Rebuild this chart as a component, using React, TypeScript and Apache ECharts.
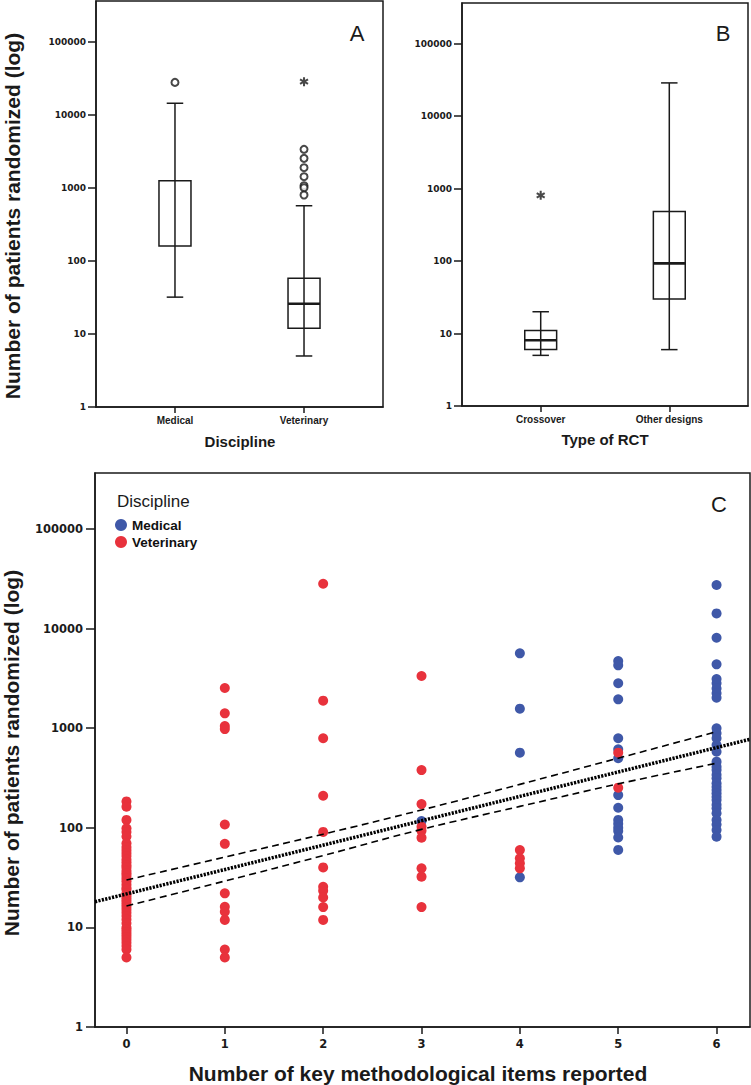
import React, { useEffect, useRef } from "react";
import * as echarts from "echarts";

// ---------- data ----------
const Y_TICKS = [1, 10, 100, 1000, 10000, 100000];
const Y_MAX = 365000;

const disciplineCats = ["Medical", "Veterinary"];
const rctCats = ["Crossover", "Other designs"];

// [lower whisker, Q1, median, Q3, upper whisker]
const medicalBox = [32, 160, null, 1260, 14500];
const veterinaryBox = [5, 12, 26, 58, 572];
const crossoverBox = [5, 6, 8.1, 11, 20];
const otherDesignsBox = [6, 30, 93, 485, 28800];

// outliers (circles) and extremes (asterisks)
const medicalOutliers = [28000];
const veterinaryOutliers = [3390, 2550, 1900, 1430, 1076, 1010, 802];
const veterinaryExtremes = [28600];
const crossoverExtremes = [810];

// scatter: patients randomized by number of key items reported (0..6)
const itemCounts = [0, 1, 2, 3, 4, 5, 6];
const medicalByItems: number[][] = [
  [],
  [],
  [],
  [117],
  [5650, 1570, 568, 31.8],
  [4720, 4280, 2825, 1950, 792, 614, 499, 213, 159, 120, 110, 100, 93, 80, 60],
  [27400, 14200, 8100, 4380, 3120, 2825, 2510, 2240, 2020, 998, 889, 792, 678, 581, 461, 410, 380, 340, 314, 280, 259, 240, 222, 205, 190, 170, 157, 140, 120, 108, 95, 81.5],
];
const veterinaryByItems: number[][] = [
  [184, 163, 120, 99, 91, 82, 70, 64, 60, 56, 52, 48, 45, 42, 40, 37, 35, 33, 31, 29, 27, 25, 24, 22, 21, 20, 19, 18, 17, 16, 15, 14, 13, 12, 11, 10, 9.5, 9, 8.5, 8, 7.5, 7, 6.5, 6, 5],
  [2535, 1410, 1050, 980, 108, 69, 22, 16.1, 14.4, 11.9, 6, 5],
  [28200, 1890, 792, 210, 91, 40, 25.6, 23.4, 20, 16, 11.9],
  [3340, 380, 173, 102.6, 93.5, 79.6, 39.2, 32.3, 16],
  [59.8, 49.4, 44, 39.2],
  [568, 253],
  [],
];

// fit line (ends at the plot edges) and its confidence band
const fitX = [-0.32, 6.34];
const fitY = [18.1, 774];
const bandUpper = [29.9, 50.8, 86.3, 151, 273, 500, 922];
const bandLower = [16.4, 29.2, 52.6, 96.4, 164, 276, 445];

// ---------- styles ----------
const INK = "#1a1a1a";
const BLUE = "#3f58a8";
const RED = "#e8323c";
const BOX_HALF = 0.124;
const CAP_HALF = 0.064;

function boxRender(params: any, api: any) {
  const x = api.value(0);
  const lo = api.value(1);
  const q1 = api.value(2);
  const med = api.value(3);
  const q3 = api.value(4);
  const hi = api.value(5);
  const pLo = api.coord([x, lo]);
  const pQ1 = api.coord([x, q1]);
  const pQ3 = api.coord([x, q3]);
  const pHi = api.coord([x, hi]);
  const cx = pQ1[0];
  const hw = api.coord([x + BOX_HALF, q1])[0] - cx;
  const cw = api.coord([x + CAP_HALF, q1])[0] - cx;
  const st = { stroke: INK, lineWidth: 1.5, fill: "none" };
  const children: any[] = [
    { type: "line", shape: { x1: cx, y1: pHi[1], x2: cx, y2: pLo[1] }, style: st },
    { type: "line", shape: { x1: cx - cw, y1: pHi[1], x2: cx + cw, y2: pHi[1] }, style: st },
    { type: "line", shape: { x1: cx - cw, y1: pLo[1], x2: cx + cw, y2: pLo[1] }, style: st },
    { type: "rect", shape: { x: cx - hw, y: pQ3[1], width: 2 * hw, height: pQ1[1] - pQ3[1] }, style: st },
  ];
  if (med != null && isFinite(med) && med > 0) {
    const pM = api.coord([x, med]);
    children.push({ type: "line", shape: { x1: cx - hw, y1: pM[1], x2: cx + hw, y2: pM[1] }, style: { stroke: INK, lineWidth: 2.6 } });
  }
  return { type: "group", children };
}

const ASTERISK =
  "path://M-2.2,-10L2.2,-10L2.2,10L-2.2,10Z M7.56,-6.91L9.76,-3.09L-7.56,6.91L-9.76,3.09Z M9.76,3.09L7.56,6.91L-9.76,-3.09L-7.56,-6.91Z";

function yAxisCfg(gi: number, fontSize: number, margin: number, tickLen: number) {
  return {
    type: "log",
    logBase: 10,
    gridIndex: gi,
    min: 1,
    max: Y_MAX,
    axisLine: { show: true, onZero: false, lineStyle: { color: INK, width: 1.5 } },
    axisTick: { show: true, length: tickLen, customValues: Y_TICKS, lineStyle: { color: INK, width: 1.5 } },
    axisLabel: {
      customValues: Y_TICKS,
      fontFamily: "DejaVu Sans",
      fontWeight: "bold",
      fontSize,
      color: INK,
      margin,
      formatter: (v: number) => String(Math.round(v)),
    },
    splitLine: { show: false },
  };
}

function catXAxis(gi: number, cats: string[]) {
  return {
    type: "value",
    gridIndex: gi,
    min: -0.612,
    max: 1.612,
    axisLine: { show: true, onZero: false, lineStyle: { color: INK, width: 1.5 } },
    axisTick: { show: true, length: 6, customValues: [0, 1], lineStyle: { color: INK, width: 1.5 } },
    axisLabel: {
      customValues: [0, 1],
      fontFamily: "Liberation Sans",
      fontWeight: "bold",
      fontSize: 10,
      color: INK,
      margin: 8,
      formatter: (v: number) => cats[Math.round(v)] ?? "",
    },
    splitLine: { show: false },
  };
}

function gridCfg(left: number, top: number, width: number, height: number) {
  return {
    left,
    top,
    width,
    height,
    show: true,
    borderColor: INK,
    borderWidth: 1.5,
    backgroundColor: "transparent",
    containLabel: false,
    outerBoundsMode: "none",
  };
}

function pairs(xs: number[], groups: number[][]) {
  const out: number[][] = [];
  groups.forEach((g, i) => g.forEach((v) => out.push([xs[i], v])));
  return out;
}

function buildOption() {
  const titleFont = { fontFamily: "Liberation Sans", fontWeight: "bold", fontSize: 21, fill: INK };
  const letterFont = { fontFamily: "Liberation Sans", fontWeight: "normal", fontSize: 22, fill: INK };
  return {
    animation: false,
    backgroundColor: "#ffffff",
    grid: [gridCfg(96, 1, 287, 406), gridCfg(462, 3, 286, 403), gridCfg(95, 473, 655, 554)],
    xAxis: [
      catXAxis(0, disciplineCats),
      catXAxis(1, rctCats),
      {
        type: "value",
        gridIndex: 2,
        min: -0.32,
        max: 6.34,
        axisLine: { show: true, onZero: false, lineStyle: { color: INK, width: 1.5 } },
        axisTick: { show: true, length: 7, customValues: itemCounts, lineStyle: { color: INK, width: 1.5 } },
        axisLabel: {
          customValues: itemCounts,
          fontFamily: "DejaVu Sans",
          fontWeight: "bold",
          fontSize: 11.5,
          color: INK,
          margin: 11,
          formatter: (v: number) => String(Math.round(v)),
        },
        splitLine: { show: false },
      },
    ],
    yAxis: [yAxisCfg(0, 9, 10, 8), yAxisCfg(1, 9, 10, 8), yAxisCfg(2, 11.5, 12, 9)],
    legend: {
      data: ["Medical", "Veterinary"],
      orient: "vertical",
      left: 115,
      top: 518,
      padding: 0,
      itemWidth: 12,
      itemHeight: 12,
      itemGap: 3,
      icon: "circle",
      selectedMode: false,
      textStyle: { fontFamily: "Liberation Sans", fontWeight: "bold", fontSize: 13.5, color: "#111" },
    },
    series: [
      // Panel A
      {
        type: "custom",
        xAxisIndex: 0,
        yAxisIndex: 0,
        renderItem: boxRender,
        encode: { x: 0, y: [1, 2, 3, 4, 5] },
        data: [
          [0, ...medicalBox],
          [1, ...veterinaryBox],
        ],
        z: 3,
      },
      {
        type: "scatter",
        xAxisIndex: 0,
        yAxisIndex: 0,
        symbol: "emptyCircle",
        symbolSize: 7,
        itemStyle: { color: INK, borderWidth: 1.3, borderColor: INK },
        data: [...medicalOutliers.map((v) => [0, v]), ...veterinaryOutliers.map((v) => [1, v])],
        z: 4,
      },
      {
        type: "scatter",
        xAxisIndex: 0,
        yAxisIndex: 0,
        symbol: ASTERISK,
        symbolSize: 9,
        itemStyle: { color: INK },
        data: veterinaryExtremes.map((v) => [1, v]),
        z: 4,
      },
      // Panel B
      {
        type: "custom",
        xAxisIndex: 1,
        yAxisIndex: 1,
        renderItem: boxRender,
        encode: { x: 0, y: [1, 2, 3, 4, 5] },
        data: [
          [0, ...crossoverBox],
          [1, ...otherDesignsBox],
        ],
        z: 3,
      },
      {
        type: "scatter",
        xAxisIndex: 1,
        yAxisIndex: 1,
        symbol: ASTERISK,
        symbolSize: 9,
        itemStyle: { color: INK },
        data: crossoverExtremes.map((v) => [0, v]),
        z: 4,
      },
      // Panel C
      {
        name: "Medical",
        type: "scatter",
        xAxisIndex: 2,
        yAxisIndex: 2,
        symbolSize: 10,
        itemStyle: { color: BLUE, opacity: 1 },
        data: pairs(itemCounts, medicalByItems),
        z: 3,
      },
      {
        name: "Veterinary",
        type: "scatter",
        xAxisIndex: 2,
        yAxisIndex: 2,
        symbolSize: 10,
        itemStyle: { color: RED, opacity: 1 },
        data: pairs(itemCounts, veterinaryByItems),
        z: 3,
      },
      {
        type: "line",
        xAxisIndex: 2,
        yAxisIndex: 2,
        showSymbol: false,
        symbol: "none",
        lineStyle: { color: "#000", width: 3.5, type: [2.2, 1.3], cap: "butt" },
        data: fitX.map((x, i) => [x, fitY[i]]),
        z: 5,
        silent: true,
      },
      {
        type: "line",
        xAxisIndex: 2,
        yAxisIndex: 2,
        showSymbol: false,
        symbol: "none",
        smooth: 0.4,
        lineStyle: { color: "#000", width: 1.6, type: [7, 4.5] },
        data: itemCounts.map((x, i) => [x, bandUpper[i]]),
        z: 5,
        silent: true,
      },
      {
        type: "line",
        xAxisIndex: 2,
        yAxisIndex: 2,
        showSymbol: false,
        symbol: "none",
        smooth: 0.4,
        lineStyle: { color: "#000", width: 1.6, type: [7, 4.5] },
        data: itemCounts.map((x, i) => [x, bandLower[i]]),
        z: 5,
        silent: true,
      },
    ],
    graphic: [
      { type: "text", x: 357, y: 33, style: { ...letterFont, text: "A", align: "center", verticalAlign: "middle" } },
      { type: "text", x: 723, y: 33, style: { ...letterFont, text: "B", align: "center", verticalAlign: "middle" } },
      { type: "text", x: 719, y: 504, style: { ...letterFont, text: "C", align: "center", verticalAlign: "middle" } },
      {
        type: "text",
        x: 12,
        y: 216,
        rotation: Math.PI / 2,
        style: { ...titleFont, text: "Number of patients randomized (log)", align: "center", verticalAlign: "middle" },
      },
      {
        type: "text",
        x: 11,
        y: 753,
        rotation: Math.PI / 2,
        style: { ...titleFont, text: "Number of patients randomized (log)", align: "center", verticalAlign: "middle" },
      },
      {
        type: "text",
        x: 240,
        y: 441,
        style: { fontFamily: "Liberation Sans", fontWeight: "bold", fontSize: 15, fill: INK, text: "Discipline", align: "center", verticalAlign: "middle" },
      },
      {
        type: "text",
        x: 605,
        y: 439,
        style: { fontFamily: "Liberation Sans", fontWeight: "bold", fontSize: 15, fill: INK, text: "Type of RCT", align: "center", verticalAlign: "middle" },
      },
      {
        type: "text",
        x: 418,
        y: 1073,
        style: { ...titleFont, text: "Number of key methodological items reported", align: "center", verticalAlign: "middle" },
      },
      {
        type: "text",
        x: 117,
        y: 501,
        style: { fontFamily: "Liberation Sans", fontWeight: "normal", fontSize: 17, fill: INK, text: "Discipline", align: "left", verticalAlign: "middle" },
      },
    ],
  };
}

export default function App() {
  const ref = useRef<HTMLDivElement>(null);
  useEffect(() => {
    if (!ref.current) return;
    const chart = echarts.init(ref.current, null, { renderer: "svg" });
    chart.setOption(buildOption() as any);
    return () => chart.dispose();
  }, []);
  return (
    <div
      ref={ref}
      style={{ position: "absolute", left: 0, top: 0, width: 751, height: 1085, background: "#fff" }}
    />
  );
}
